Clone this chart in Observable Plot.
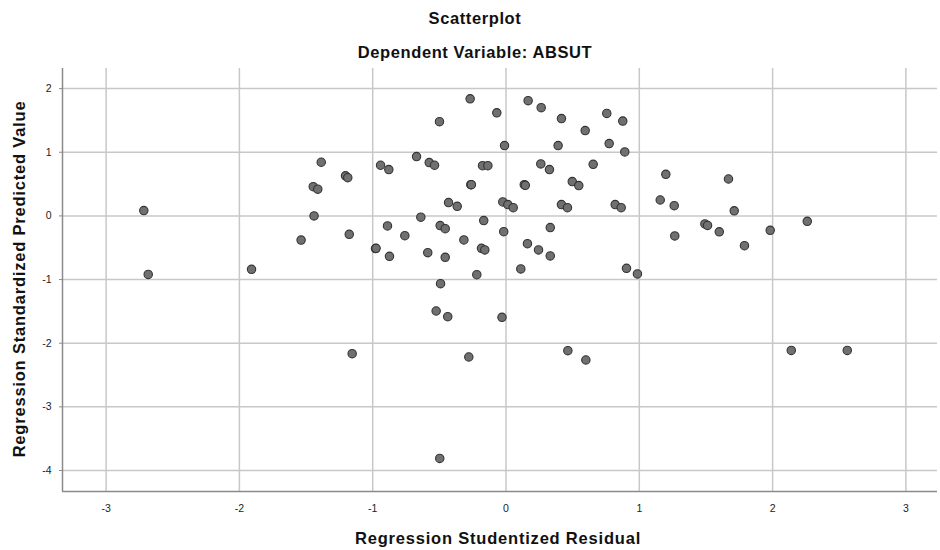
<!DOCTYPE html>
<html>
<head>
<meta charset="utf-8">
<script src="https://cdn.jsdelivr.net/npm/d3@7"></script>
<script src="https://cdn.jsdelivr.net/npm/@observablehq/plot@0.6"></script>
<style>
  body { margin: 0; background: #fff; font-family: "Liberation Sans", Arial, sans-serif; }
  #wrap { position: relative; width: 940px; height: 550px; overflow: hidden; }
  #chart { position: absolute; left: 0; top: 0; }
  .t { position: absolute; font-weight: bold; color: #111; white-space: nowrap; line-height: 1; }
</style>
</head>
<body>
<div id="wrap">
  <div id="chart"></div>
  <div class="t" style="left:0;width:950px;text-align:center;top:10px;font-size:16.5px;letter-spacing:0.6px;">Scatterplot</div>
  <div class="t" style="left:0;width:950px;text-align:center;top:44px;font-size:16.5px;letter-spacing:0.6px;">Dependent Variable: ABSUT</div>
  <div class="t" style="left:0;width:996px;text-align:center;top:530px;font-size:16.5px;letter-spacing:0.8px;">Regression Studentized Residual</div>
  <div class="t" style="left:19px;top:279px;font-size:16.5px;letter-spacing:0.8px;transform:translate(-50%,-50%) rotate(-90deg);">Regression Standardized Predicted Value</div>
</div>
<script>
const residual = [-2.717,-2.684,-1.909,-1.537,-1.446,-1.412,-1.386,-1.44,-1.204,-1.187,-1.176,-1.154,-0.979,-0.941,-0.879,-0.889,-0.874,-0.759,-0.671,-0.639,-0.587,-0.576,-0.536,-0.499,-0.494,-0.456,-0.456,-0.491,-0.524,-0.437,-0.497,-0.431,-0.366,-0.316,-0.279,-0.269,-0.264,-0.26,-0.219,-0.184,-0.159,-0.176,-0.136,-0.167,-0.069,-0.024,-0.017,-0.011,-0.03,0.014,0.054,0.111,0.137,0.145,0.161,0.166,0.244,0.261,0.264,0.326,0.332,0.332,0.391,0.416,0.416,0.461,0.464,0.497,0.546,0.594,0.599,0.654,0.756,0.774,0.819,0.864,0.876,0.891,0.904,0.986,1.157,1.199,1.262,1.266,1.492,1.512,1.6,1.669,1.712,1.789,1.982,2.14,2.26,2.56,-0.975];
const predicted = [0.083,-0.92,-0.84,-0.38,0.46,0.42,0.843,0.0,0.63,0.60,-0.29,-2.165,-0.514,0.796,0.728,-0.157,-0.635,-0.31,0.932,-0.02,-0.577,0.838,0.796,1.48,-0.152,-0.2,-0.65,-1.065,-1.494,-1.583,-3.81,0.209,0.151,-0.377,-2.217,1.84,0.49,0.49,-0.923,-0.51,-0.535,0.79,0.79,-0.074,1.62,0.22,-0.247,1.105,-1.594,0.178,0.13,-0.833,0.49,0.48,-0.436,1.81,-0.535,0.817,1.70,0.728,-0.184,-0.629,1.105,1.53,0.178,0.13,-2.118,0.54,0.476,1.34,-2.264,0.81,1.61,1.137,0.178,0.13,1.49,1.006,-0.824,-0.912,0.25,0.654,0.16,-0.315,-0.126,-0.15,-0.25,0.58,0.08,-0.467,-0.226,-2.113,-0.085,-2.113,-0.51];
const xTicks = [-3,-2,-1,0,1,2,3];
const yTicks = [-4,-3,-2,-1,0,1,2];
const xDomain = [-3.327, 3.237];
const yDomain = [-4.33, 2.316];

const pts = residual.map((r, i) => ({r, p: predicted[i]}));

const chart = Plot.plot({
  width: 940,
  height: 550,
  marginTop: 68,
  marginBottom: 59,
  marginLeft: 62,
  marginRight: 3,
  style: {fontFamily: "'Liberation Sans', Arial, sans-serif", fontSize: "10px", color: "#222", background: "white"},
  x: {domain: xDomain, label: null},
  y: {domain: yDomain, label: null},
  marks: [
    Plot.gridX(xTicks, {stroke: "#c8c8c8", strokeOpacity: 1, strokeWidth: 1.5}),
    Plot.gridY(yTicks, {stroke: "#c8c8c8", strokeOpacity: 1, strokeWidth: 1.5}),
    Plot.ruleX([xDomain[0]], {stroke: "#8a8a8a", strokeWidth: 1.5}),
    Plot.ruleY([yDomain[0]], {stroke: "#8a8a8a", strokeWidth: 1.5}),
    Plot.axisX(xTicks, {tickSize: 0, tickPadding: 13, fill: "#222", fontSize: 10.5, tickFormat: d => String(d)}),
    Plot.axisY(yTicks, {tickSize: 3, tickPadding: 8, stroke: "#8a8a8a", fill: "#222", fontSize: 10.5, tickFormat: d => String(d)}),
    Plot.dot(pts, {x: "r", y: "p", r: 4.2, fill: "#707070", stroke: "#333333", strokeWidth: 1.1})
  ]
});
document.getElementById("chart").appendChild(chart);
</script>
</body>
</html>
